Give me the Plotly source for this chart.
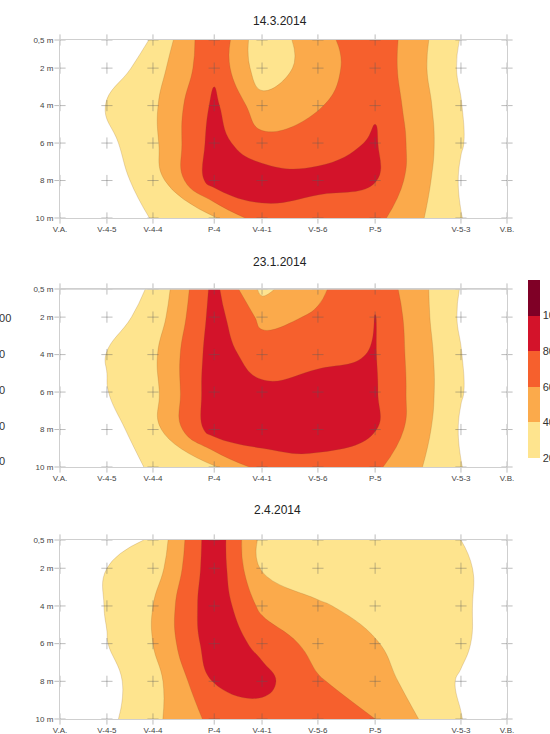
import plotly.graph_objects as go

# ---- data ----
positions = ["V.A.", "V-4-5", "V-4-4", "P-4", "V-4-1", "V-5-6", "P-5", "V-5-3", "V.B."]
distance = [0, 10.5, 20.8, 34.5, 45.2, 57.7, 70.5, 89.7, 100.0]
depths = [0.5, 2, 4, 6, 8, 10]
depth_labels = ["0,5 m", "2 m", "4 m", "6 m", "8 m", "10 m"]

titles = ["14.3.2014", "23.1.2014", "2.4.2014"]

z_14_3 = [
    [5, 10, 21, 78, 25, 53, 75, 19, 5],
    [5, 9, 30, 76, 28, 50, 75, 17, 5],
    [5, 20.5, 36, 84, 48, 58, 78, 20.5, 5],
    [5, 15, 35, 88, 66, 72, 82, 21, 5],
    [5, 12, 28, 90, 92, 85, 81, 18, 5],
    [5, 8, 21, 38, 72, 72, 66, 20.5, 5],
]
z_23_1 = [
    [5, 10, 22, 86, 35, 57, 75, 19, 5],
    [5, 12, 27, 88, 55, 62, 80.5, 17, 5],
    [5, 20.5, 36, 90, 70, 75, 81, 20.5, 5],
    [5, 19.5, 34, 92, 85, 88, 82, 21, 5],
    [5, 12, 32, 90, 92, 88, 81, 18, 5],
    [5, 8, 23, 38, 68, 75, 64, 20.5, 5],
]
z_2_4 = [
    [5, 12, 22, 95, 34, 30, 30, 20, 5],
    [5, 20, 28, 95, 38, 30, 30, 24, 8],
    [5, 21, 40, 95, 55, 42, 34, 25, 5],
    [5, 19.5, 40, 92, 75, 52, 41, 24, 5],
    [5, 14, 32, 81, 86, 62, 48, 18, 5],
    [5, 15, 35, 66, 72, 68, 60, 20.5, 5],
]
panels = [z_14_3, z_23_1, z_2_4]

levels = [20, 40, 60, 80, 100]
band_colors = ["#FEE48E", "#FBAA4B", "#F6602D", "#D3132A", "#7F0026"]
legend_labels = ["100", "80", "60", "40", "20"]

# ---- layout geometry ----
W, H = 550, 734
x0, x1 = 60 / W, 507 / W
panel_px = [(40, 218), (289, 467), (540, 719)]
title_px = [(280, 21), (280, 262), (277, 510)]

FONT = "Liberation Sans, Arial, sans-serif"
EDGE = "#cfcfcf"

# stepped colorscale for contour fills (white below first level)
fill_scale = [[0.0, "white"], [0.1, "white"]]
for i, c in enumerate(band_colors):
    a = round(0.1 + 0.2 * i, 4)
    b = round(min(0.3 + 0.2 * i, 1.0), 4)
    fill_scale += [[a, c], [b, c]]

fig = go.Figure()

for k, z in enumerate(panels):
    xa = "x" if k == 0 else f"x{k+1}"
    ya = "y" if k == 0 else f"y{k+1}"
    fig.add_trace(go.Contour(
        x=distance, y=depths, z=z,
        xaxis=xa, yaxis=ya,
        colorscale=fill_scale,
        autocontour=False,
        contours=dict(start=levels[0], end=levels[-1], size=20, coloring="fill", showlines=True),
        line=dict(color="rgba(140,90,40,0.35)", width=0.6, smoothing=1.3),
        showscale=False,
        hoverinfo="skip",
    ))

# top frame edge of the middle panel drawn over the fills
shapes = [dict(type="line", xref="x2", yref="y2", x0=distance[0], x1=distance[-1],
               y0=depths[0], y1=depths[0], line=dict(color=EDGE, width=1.6), layer="above")]

for k in range(3):
    xa = "x" if k == 0 else f"x{k+1}"
    ya = "y" if k == 0 else f"y{k+1}"
    gx = [d for _ in depths for d in distance]
    gy = [dp for dp in depths for _ in distance]
    fig.add_trace(go.Scatter(
        x=gx, y=gy, mode="markers", xaxis=xa, yaxis=ya,
        marker=dict(symbol="cross-thin", size=8, color="rgba(90,90,90,0.4)",
                    line=dict(width=1, color="rgba(90,90,90,0.4)")),
        cliponaxis=False, showlegend=False, hoverinfo="skip",
    ))

# colorbar via dummy trace on hidden axes
cb_scale = []
for i, c in enumerate(band_colors):
    cb_scale += [[round(i / 5, 4), c], [round((i + 1) / 5, 4), c]]
fig.add_trace(go.Scatter(
    x=[None], y=[None], mode="markers", xaxis="x4", yaxis="y4",
    marker=dict(color=[20], cmin=20, cmax=120, colorscale=cb_scale, showscale=True,
                colorbar=dict(x=528 / W, xanchor="left", xpad=0, ypad=0,
                              y=(H - 369) / H, yanchor="middle",
                              lenmode="pixels", len=178, thickness=12,
                              outlinewidth=0, ticks="",
                              tickvals=levels, ticktext=[str(v) for v in levels],
                              tickfont=dict(size=11, color="#333", family=FONT))),
    showlegend=False, hoverinfo="skip",
))

layout = dict(
    width=W, height=H,
    margin=dict(l=0, r=0, t=0, b=0, autoexpand=False),
    paper_bgcolor="white", plot_bgcolor="white",
    showlegend=False,
    font=dict(family=FONT),
    xaxis4=dict(visible=False, domain=[0, 0.01], anchor="y4"),
    yaxis4=dict(visible=False, domain=[0, 0.01], anchor="x4"),
    shapes=shapes,
)
annotations = []
for k, (top, bot) in enumerate(panel_px):
    xk = "xaxis" if k == 0 else f"xaxis{k+1}"
    yk = "yaxis" if k == 0 else f"yaxis{k+1}"
    anchor_x = "y" if k == 0 else f"y{k+1}"
    anchor_y = "x" if k == 0 else f"x{k+1}"
    layout[xk] = dict(
        domain=[x0, x1], anchor=anchor_x, range=[0, 100],
        tickmode="array", tickvals=distance, ticktext=positions,
        showgrid=False, zeroline=False, showline=True, linecolor=EDGE, linewidth=1,
        mirror=True, ticks="outside", ticklen=3, tickcolor="rgba(0,0,0,0)",
        tickfont=dict(size=8, color="#444", family=FONT),
    )
    layout[yk] = dict(
        domain=[(H - bot) / H, (H - top) / H], anchor=anchor_y, range=[10, 0.5],
        tickmode="array", tickvals=depths, ticktext=depth_labels,
        showgrid=False, zeroline=False, showline=True, linecolor=EDGE, linewidth=1,
        mirror=True, ticks="outside", ticklen=4, tickcolor="rgba(0,0,0,0)",
        tickfont=dict(size=8, color="#444", family=FONT),
    )
    tx, ty = title_px[k]
    annotations.append(dict(text=titles[k], x=tx / W, y=(H - ty) / H, xref="paper", yref="paper",
                            showarrow=False, xanchor="center", yanchor="middle",
                            font=dict(size=12, color="#222", family=FONT)))

# labels of a neighbouring colour scale, cut off at the left edge
for lab, ypx in zip(legend_labels, [318, 354, 390, 426, 461]):
    annotations.append(dict(text=lab, x=-9 / W, y=(H - ypx) / H, xref="paper", yref="paper",
                            showarrow=False, xanchor="left", yanchor="middle",
                            font=dict(size=11, color="#333", family=FONT)))
layout["annotations"] = annotations

fig.update_layout(**layout)
fig.write_html("out.html")
